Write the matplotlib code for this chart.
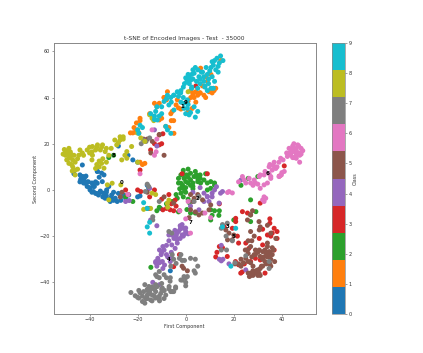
import numpy as np
import matplotlib
matplotlib.use('Agg')
import matplotlib.pyplot as plt

# values, one pair of lists per class
x0 = [-43, -42.5, -43.7, -41.8, -41, -39.8, -38.4, -36.3, -34.2, -33.5, -31.4, -29.3, -30.8, -32.9, -32, -36.8, -34.7, -36, -34, -36.8, -39, -27, -25.8, -23.7, -25, -20, -19, -16, -15.4, -6.4, -37.5, -38, -43, -46.5, -43, -36.7, -35, -28, -24, -22, -20, -40.5, -41.5, -44, -37.5, -35.5, -33, -31, -28, -10.5, -44, -42, -41, -40, -38.5, -37, -35.5, -34.5, -33, -31, -30, -28.5, -27, -42.5, -43.5, -39, -32, -30]
y0 = [5.8, 4.4, 4.4, 2.9, 1.5, 0, -0.7, -2.2, -1.4, -3.6, -5, -3.6, -2.2, 0, 1.5, 2.9, 3.6, 5.5, 6.5, 8, 3, -3, -2.2, -2.2, -3.6, -3, -2.6, 2, 0.7, -35, 3.5, 1.5, 10.8, 7, 5.8, 8, 7.3, 19, 15, 13, 12, 3.5, 6, 3.5, -1.5, -0.5, -2.5, -3.5, -1.5, -8, 6.5, 5.5, 3.5, 1, 1.5, -1.5, -1, -3, -1, -3.5, -4.5, -5, -4.5, 3, 5, -1, -4, -1]
x1 = [11.8, 9.7, 7.6, 8.3, 4.2, 2.1, 3.5, 2.1, 4.2, 2.7, 0.7, -4, -5.6, -6.2, 6.2, 10.5, 8.3, 14.6, 9, 7, -7.6, -11, -13, -5, -11, -15, -6, -19, -20.5, -21.5, -22, -19.5, -4.9, -7, -8.3, -18, -17, -19, -23, 3, 6, 1, 12.5, -9, -3.5, -2, 10, 11, 6, 5, 3, 1, -3, -8, -9, -10, -12, -20, -19, -21]
y1 = [43, 42.5, 41, 40, 42.5, 43, 40, 40, 38, 35.3, 37.8, 36.8, 34, 33, 52.7, 50, 49, 56, 47, 45, 42.5, 37.5, 37.5, 30, 30.3, 33, 30, 31, 29, 27, 24.7, 24.7, 24.5, 27, 27.5, 11, 11.5, 12, 24.7, 41.5, 42, 34, 44, 40, 39, 35, 43, 42, 42, 41, 42, 38.5, 35.5, 39, 40, 31, 36, 26, 30, 25]
x2 = [-2, -0.7, -2, 0.5, 2, 3.5, 5, 2, 0, 6.2, 9, 10.4, 12, 7.6, 8.3, -1.3, -2, -3.5, -5.6, 10.4, 9, 27, 29.2, 27, 27, 10.4, 12, 11, 10.4, 20, 13.8, 4, 0.5, 2, -3, 23, -1, 1, 4, 6, 3, 30, 26, -8, -11, -25, -22, -16, -12, 1.5, -30, -32, -14.5, 0, -3, -1, 1, 3, 4.5, 6, 1, -1.5, 0, 2, -2.5, -4, -0.5, 3, 5, -3, -1, 1, 12, 14]
y2 = [6.5, 5, 2.9, 6.5, 7.2, 5.8, 3.6, 4.4, 3.6, 3, 3, 3.6, 3, 4.3, 7, 2, -1.4, -3.6, -5, 0.7, 0, -4.3, -9.4, -10.8, -13.7, -8.6, -9, -11, -13, -13, -11, -10, -8.5, -10, -9.5, 2, 8.5, 9, 8, 6.5, 1.5, 5.8, 5, -6, -7.5, -3, -5, -8, -9, -5.5, 15, 14, -33.5, -1, 5, 7, 5.5, 3, 6.5, 5, 3, 1, 1, 2, 0.5, -2, -0.5, 0.5, 5, 3, -3, -4, 2, -9]
x3 = [23.6, 25.7, 20.8, 20.8, 31, 35, 35, 36.8, 38, 38, 35.4, 34, 32, 30.6, 32, 16, 19.4, 21.5, 22, 14, 15.3, 13, 12.5, 17.3, 22, 22.9, 24.4, 29, 31, 26.3, 36.8, 27, 23.5, 33, 34, 20.7, 36, -20, -18.7, -15, -13, -7, -9.5, -8, -6.5, -4.4, -5, -2.5, -6, -4, -15, -5, -2.6, -19, -14.6, -11, -10, -11, -9.5, -13, 4.2, 41, -1.5, 39, 14, -10, -25, -24, 25, 9]
y3 = [-9.4, -10, -12.3, -13.7, -5.7, -12.5, -14.4, -16.6, -18, -21, -20, -19.5, -23.8, -21, -17, -16, -16.6, -20, -23, -24.5, -25, -27, -29, -28.8, -32.4, -36, -32, -29.6, -30.3, -25.3, -26, -31, -35.5, -36, -31.5, -31, -18.7, 0, -0.7, -3, 0, -2, -8.6, -8, -8.6, -4.4, -9, -9, -6, -7, -8, -33.2, -28, 8.6, 17.3, 19.5, 20, 23.8, 24.3, 20, 45, 10.4, 7, 6, -6, -4, 0, -2, -23, 7]
x4 = [-2.3, -0.9, -3.7, -5.8, -7, -4.9, -1.5, 0, -2.3, -5.8, -8, -9.5, -10.9, -10.2, -11.6, -12, -8.8, -6.4, -5.8, -9.7, -12.5, -10.9, -4.4, -2.3, -3.7, -10.9, -13.7, -23.5, -25, -15, -12, -14.6, 12, 12.8, 11, 9, 7.6, 9.7, 13.9, 14.5, 15.3, 2, 5.5, 7.6, 23, -2, 0, -1, -4, 14.8, 14, 15.5, 14.8, 18, 25, -13, -12, 6, 3, -3, -1.5, -4.5, -7, -9, -10, -11, -9.5, -7.5, -6, -1, -2, -4, -12.5, -8, -3.5, 0, 1, 9, 11]
y4 = [-17, -16.6, -18.7, -19.5, -19.5, -21, -19.5, -18.7, -21, -23.8, -24, -24.5, -26, -28, -29.6, -33, -32.5, -31, -29.5, -31, -31.5, -31.5, -25.3, -15.5, -21.5, -41, -40, -4.6, -5, 0.7, -15.5, -13, 0, 1.4, -1.4, -2.8, -5, -5, -5.7, -1.4, -0.7, -7, -8.6, -1.4, 4.3, -16, -18, -19.5, -19.5, -24, -30, -30, -30.7, -32, -34.6, 26, 19, 1, -1, -18, -15, -17.5, -22, -26, -27, -31, -34, -29, -27, -20, -16, -20, -31, -28, -23, -16.5, -19, -3, -3]
x5 = [26, 27.5, 28.5, 27, 30.5, 31, 30.6, 34, 35.4, 37.5, 33, 34.7, 36, 32, 30.6, 34, 35.4, 33, 31, 29, 27.5, 26, 25, 23, 22, 20.5, 30, 29, 27, 26.5, 30.5, 29.5, 31.5, 35.4, 35, 25.7, 27, 24.8, 27, 27.8, 25.7, 18, 20, 16.7, 19.4, 17.4, 27, 37, 33.5, 32, 28, 28.5, 36, 34, -0.9, -1.5, 0.7, 3.5, 2, 5, 7, 5.5, 4, 2, 9.7, 10.4, 1.4, -5, -13.9, -16, -17.5, -9, -11, -14.5, -26.5, -27.2, -9, -16, 3, 7, 28, 29.5, 31, 32.5, 33.5, 35, 36.5, 27, 26, 28, 30, 31, 32, 34, 35, 29, 30, 26, 24, 23]
y5 = [-22, -22, -20, -18, -13.7, -16, -17.3, -15.3, -18.7, -21, -26, -26.7, -28, -26.7, -26, -29, -30, -31, -28.8, -26, -29, -31, -29.6, -30, -32, -32, -34.6, -36, -37, -37.5, -36, -35, -33, -33, -32, -26, -24.5, -26, -10.8, -9, -13, -18.7, -19.5, -17.3, -21.6, -21.6, -31.5, -31, -32, -33, -33, -28, -25, -23, -33.9, -33, -35, -3.6, -2, -2, -4.3, -10.8, -9.5, -8.6, -8.6, -6.5, -12, -5.7, 21, 22, 22, 15, 24, 16, -1, -3, -3, -1, -5, -10, -35, -35, -34, -29, -27.5, -27, -26, -36, -36, -37, -37, -37, -30, -24.5, -28, -28, -27, -27.5, -31.5, -33]
x6 = [45, 46.6, 44.5, 43, 46, 48, 48.7, 47.4, 46, 44.5, 43.8, 42.3, 47.4, 46, 47.8, 45.3, 39.5, 38.8, 36.8, 38, 34.7, 36, 41, 39.8, 34.7, 32.6, 30.6, 37.5, 35.4, 40, 38.8, 35.4, 34, 32.6, 31, 28.5, 26.4, 24.3, 23.6, 31, 28, 32.6, 32, 32.6, 33.3, 27, 19.4, 18, 17.4, -14, -12, -13, -12.3, 2, 10.4, 8, 0, -2.5, 1, -19, -24, 44, 45.5, 47, 48, 43, 42, 40.5, 36.5, 35, 33, 29, 25, 22, 30, 44.5, 46, 47, 45]
y6 = [20, 19.5, 19, 18, 18, 18, 17, 15, 15, 16.6, 15, 14.5, 12, 13.7, 16, 17.5, 13.7, 12, 12, 10, 10, 8.6, 8, 6.5, 7, 6.5, 5.8, 9.3, 5.8, 7.5, 5.8, 5, 3, 2.2, 0.7, 4.3, 5, 4.3, 5.8, 6.5, 2, -3, -4.3, -5, -3.6, 3, -1.3, -0.7, -1.1, 26, 22, 15, 16.5, -18.7, -12, -10, -12.5, -9, -5, 7, -2, 17.5, 16.5, 16, 15.5, 16, 16, 13, 10.5, 11, 8, 3, 3, 3.5, 2.5, 14, 17, 19, 14]
x7 = [-22.8, -21, -19.5, -18, -19, -16.7, -14.6, -16, -13.9, -12.5, -10.9, -14.6, -12.5, -10.4, -8.3, -6.2, -4.2, -6.9, -9.7, -11.8, -13, -15.3, -12.5, -11, -9, -6.4, -6.5, -11, -7, -5.8, -0.7, -2, -2.6, -4, -1.5, 0, 0, -5.6, -5, -6.2, -4.2, -5.6, 0, 0.7, -1.4, 4, 3.5, 2, 4, 5, -2, -0.5, 15.3, 17.3, 14.8, 16.8, 19.4, 25, 34.7, 34.7, 14.8, 17, 20.5, 3.5, 5.5, -15.4, -16.8, -13.7, -13.7, -11, -16, -15, -9, -11, -17, -9, -16.5, -15, -17.5, -18.5, -16, -20, -18, -17, -15, -14, -13, -11, -9, -7, -5, -16, -12.5, -10, -8, -19.5, -17.5, -14, -12, -15.5, -13, -10]
y7 = [-44.4, -45.8, -46.8, -48.3, -44.5, -47, -47.6, -45.5, -45.5, -46.8, -48, -43, -44, -44.8, -45.5, -44, -42.5, -41.8, -42.5, -41.8, -42.5, -41.8, -36.7, -35.3, -36.7, -38, -39.5, -38, -18, -18.7, -37.5, -39, -29.6, -31.8, -30.5, -40, -41.5, -28, -30, -33, -42, -44, -38, -37.5, -39, -36, -35, -29.6, -30, -33, -28, -30.5, -15, -14.4, -16.6, -20, -22, -28.5, -31, -34, -26, -26, -31.5, -5, -2.8, 1.5, -0.7, -11.6, -13, -5, -47, -44, -47, -47, -41, -43.5, 21, 22.5, 21.5, 20, 2.5, -46.5, -46, -49, -45, -48, -43, -46, -43.5, -42.8, -44, -43, -41, -40.5, -38, -43.5, -44, -42, -37.5, -44, -46, -43]
x8 = [-49.3, -48.6, -50, -48.6, -47.8, -48.6, -47, -46, -44.5, -42.5, -44, -41, -38.8, -36.7, -34.6, -37.5, -38.8, -35.5, -33.5, -32, -35, -36, -34, -33, -37.5, -29.5, -27.3, -27.3, -26, -28.7, -26.6, -24.5, -22.5, -24.5, -25.3, -20, -15, -13.3, -14, -20, -18.7, -17, -47.2, -46, -32.6, -30.6, -27, -32, -17.5, -14.6, -7.6, -7, -14, -12.5, -50.5, -51, -40, -31, 1, -7.5, -50, -49, -48, -47, -46, -45, -43, -40, -39, -37, -35, -33, -47.5, -45, -36, -34.5, -28, -26, -49.5, -48, -46.5, -37, -39]
y8 = [16.6, 18, 15, 13.7, 15.5, 11.5, 10, 8.6, 15, 15, 17.3, 17.3, 18.8, 19.5, 19.5, 17.3, 15, 17.3, 16.6, 15, 11.5, 10, 9.4, 12, 9.3, 21.6, 21.6, 23, 23, 19.5, 13, 13.7, 18.8, 16.6, 15, 12, 32.5, 30, 31, 24.6, 22.5, 21, 8.2, 6.5, 2.2, 2.9, 2.2, -4.3, -8.4, -8, -5.8, -4.4, -1.4, -2, 17.5, 15.5, 16, 18, 42.5, -7.5, 17, 15.5, 16.5, 13, 12, 13.5, 16, 18.5, 16.5, 18.5, 18.5, 18, 11, 9, 12.5, 13.5, 20.5, 22, 13, 14, 15, 11, 13]
x9 = [14.5, 13, 11, 15.5, 11.5, 13.5, 10.5, 8.5, 4, 6.5, 9, 11, 3.5, 2.5, 1, 1.5, 0.5, -0.5, 1.5, 4.5, 7.5, 9.5, 11.5, 10.5, 9, 8, 5, 6, 3, -3.5, -5, -6.2, -0.7, 0.7, 1.4, 5, 3.5, 0.7, -7.6, -4.9, -2.1, -9, -7, -4.9, -0.7, -12.5, -14.6, -11.8, -13, -19, -20, -18, -19.5, -8.3, -7.6, -6.2, -15, -16, -15, -17.5, -16, 20.8, 15.3, 18.8, -12, -10, 12, 13.5, -2, -1, 2.5, 7, 12, 14, 12.5, 10, 9.5, 7.5, 5.5, 5, 3, 2, 0, -1, 2.5, 6, 8, -3, -2, -6, -8, -10, -11, -13, 1, 2, 0, 4]
y9 = [58, 57, 55.5, 56, 54, 53.5, 53, 53, 53, 51, 50, 49, 50.5, 50, 50, 48.5, 47, 46, 46, 47, 47, 46, 44, 44, 43, 45, 44, 46, 48, 42.5, 41, 40, 37.5, 35.3, 32.5, 34, 36, 39, 41, 41, 42, 38.3, 36.8, 34.6, 35.3, 34, 33, 30.3, 32, 28, 26, 27, 24.5, 27.5, 26, 24.5, -14, -16, -18.7, -5.5, -8, -16.6, -16, -33, 36, 33, 47, 51, 43, 40, 44, 51, 56, 55, 52, 51.5, 48, 49, 49, 52, 52, 47.5, 48.5, 44.5, 44.5, 48, 44.5, 40.5, 38, 38, 39.5, 36, 32, 30.5, 37, 33.5, 33, 31.5]

xs = [x0, x1, x2, x3, x4, x5, x6, x7, x8, x9]
ys = [y0, y1, y2, y3, y4, y5, y6, y7, y8, y9]

# class numbers written on the plot
label_names = ['0', '1', '2', '3', '4', '5', '6', '7', '8', '9']
label_x = [-26.7, -1.5, 4.9, 17.4, -7.2, 20, 34, 2, -30, 0]
label_y = [3.2, 36, -3.6, -16, -30.3, -20, 7, -14, 14.7, 38]

x = np.concatenate(xs)
y = np.concatenate(ys)
c = np.concatenate([[i] * len(v) for i, v in enumerate(xs)])

plt.rcParams['font.size'] = 3.5
plt.rcParams['text.color'] = '#333333'
plt.rcParams['axes.labelcolor'] = '#333333'
plt.rcParams['xtick.labelcolor'] = '#333333'
plt.rcParams['ytick.labelcolor'] = '#333333'

W, H = 423, 353
fig = plt.figure(figsize=(W / 100, H / 100), dpi=100)
ax = fig.add_axes([53.5 / W, 1 - 314 / H, 262 / W, 271 / H])
cax = fig.add_axes([332 / W, 1 - 314 / H, 13 / W, 271 / H])

sc = ax.scatter(x, y, c=c, cmap='tab10', s=13, linewidths=0)
for name, lx, ly in zip(label_names, label_x, label_y):
    ax.text(lx, ly, name, color='black', fontsize=4, fontweight='bold', ha='center', va='center')

ax.set_xlim(-55, 54)
ax.set_ylim(-53.7, 63.6)
ax.set_xticks([-40, -20, 0, 20, 40])
ax.set_yticks([-40, -20, 0, 20, 40, 60])
ax.set_xlabel('First Component', labelpad=1.5)
ax.set_ylabel('Second Component', labelpad=1)
ax.set_title('t-SNE of Encoded Images - Test  - 35000', fontsize=4.3, pad=2.2)
ax.tick_params(length=1.2, width=0.4, pad=1.2, color='#555555')
for s in ax.spines.values():
    s.set_linewidth(0.7)
    s.set_color('#888888')

cb = fig.colorbar(sc, cax=cax, ticks=range(10))
cb.set_label('Class', labelpad=1)
cb.ax.tick_params(length=1.2, width=0.4, pad=1.2, color='#555555')
cb.outline.set_linewidth(0.5)
cb.outline.set_edgecolor('#888888')

fig.savefig('out.png', dpi=100)
